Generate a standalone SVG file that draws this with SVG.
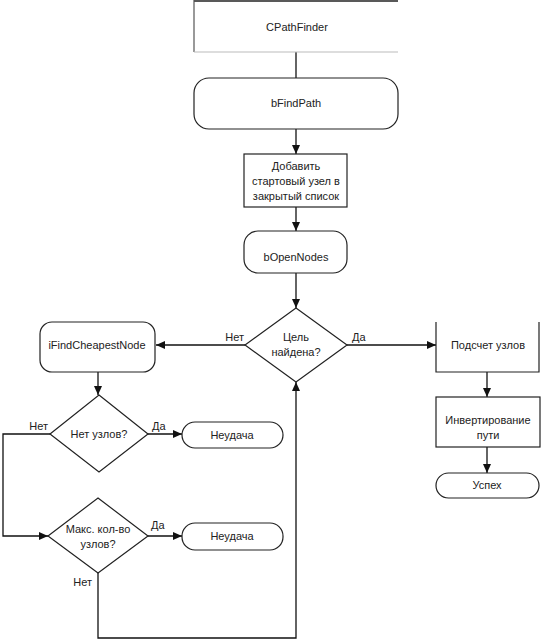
<svg xmlns="http://www.w3.org/2000/svg" width="541" height="642" viewBox="0 0 541 642">
<defs>
<marker id="ah" markerWidth="10" markerHeight="8" refX="9" refY="4" orient="auto" markerUnits="userSpaceOnUse">
<path d="M0,0 L9,4 L0,8 Z" fill="#111"/>
</marker>
<style>
.s{fill:#fff;stroke:#222;stroke-width:1.2}
.e{fill:none;stroke:#222;stroke-width:1.2}
.t{font-family:"Liberation Sans",Arial,sans-serif;font-size:11px;fill:#222;text-anchor:middle}
.l{font-family:"Liberation Sans",Arial,sans-serif;font-size:11px;fill:#222}
.c{fill:none;stroke:#111;stroke-width:1.3}
</style>
</defs>
<rect width="541" height="642" fill="#fff"/>
<g id="connectors">
<line class="c" x1="296" y1="52" x2="296" y2="78"/>
<line class="c" x1="296" y1="129" x2="296" y2="154" marker-end="url(#ah)"/>
<line class="c" x1="296" y1="207" x2="296" y2="231" marker-end="url(#ah)"/>
<line class="c" x1="296" y1="273" x2="296" y2="308" marker-end="url(#ah)"/>
<line class="c" x1="245" y1="345" x2="156" y2="345" marker-end="url(#ah)"/>
<line class="c" x1="347" y1="345" x2="436" y2="345" marker-end="url(#ah)"/>
<line class="c" x1="487" y1="372" x2="487" y2="397" marker-end="url(#ah)"/>
<line class="c" x1="487" y1="447" x2="487" y2="473" marker-end="url(#ah)"/>
<line class="c" x1="98" y1="372" x2="98" y2="395" marker-end="url(#ah)"/>
<line class="c" x1="148" y1="434" x2="182" y2="434" marker-end="url(#ah)"/>
<polyline class="c" points="50,434 3,434 3,536 48,536" marker-end="url(#ah)"/>
<line class="c" x1="148" y1="536" x2="182" y2="536" marker-end="url(#ah)"/>
<polyline class="c" points="98,573 98,638 296,638 296,382" marker-end="url(#ah)"/>
<text class="l" x="244" y="341" text-anchor="end">Нет</text>
<text class="l" x="352" y="341">Да</text>
<text class="l" x="48" y="430" text-anchor="end">Нет</text>
<text class="l" x="152" y="430">Да</text>
<text class="l" x="151" y="529">Да</text>
<text class="l" x="92" y="586" text-anchor="end">Нет</text>
</g>
<g id="cpathfinder">
<line x1="194" y1="1" x2="398" y2="1" stroke="#222" stroke-width="1.5"/>
<line x1="194" y1="0" x2="194" y2="52" stroke="#555" stroke-width="1.2"/>
<line x1="194" y1="52" x2="398" y2="52" stroke="#bbb" stroke-width="1.2"/>
<text class="t" x="297" y="31">CPathFinder</text>
</g>
<g id="bfindpath">
<rect class="s" x="194" y="78" width="204" height="51" rx="15"/>
<text class="t" x="296" y="107">bFindPath</text>
</g>
<g id="addstart">
<rect class="s" x="244" y="154" width="103" height="53"/>
<text class="t" x="296" y="170">Добавить</text>
<text class="t" x="296" y="185">стартовый узел в</text>
<text class="t" x="296" y="200">закрытый список</text>
</g>
<g id="bopennodes">
<rect class="s" x="244" y="231" width="103" height="42" rx="14"/>
<text class="t" x="296" y="261">bOpenNodes</text>
</g>
<g id="goalfound">
<polygon class="s" points="296,308 347,345 296,382 245,345"/>
<text class="t" x="296" y="341">Цель</text>
<text class="t" x="296" y="356">найдена?</text>
</g>
<g id="ifindcheapest">
<rect class="s" x="40" y="322" width="115" height="50" rx="12"/>
<text class="t" x="97" y="349">iFindCheapestNode</text>
</g>
<g id="countnodes">
<path class="e" d="M436,322 V372 H539 V322"/>
<text class="t" x="488" y="349">Подсчет узлов</text>
</g>
<g id="invertpath">
<rect class="s" x="436" y="397" width="104" height="50"/>
<text class="t" x="488" y="424">Инвертирование</text>
<text class="t" x="488" y="439">пути</text>
</g>
<g id="success">
<rect class="s" x="436" y="473" width="103" height="25" rx="12.5"/>
<text class="t" x="487" y="489">Успех</text>
</g>
<g id="nonodes">
<polygon class="s" points="99,395 148,434 99,472 50,434"/>
<text class="t" x="99" y="438">Нет узлов?</text>
</g>
<g id="fail1">
<rect class="s" x="182" y="422" width="101" height="26" rx="13"/>
<text class="t" x="232" y="439">Неудача</text>
</g>
<g id="maxnodes">
<polygon class="s" points="98,498 148,536 98,573 48,536"/>
<text class="t" x="98" y="533">Макс. кол-во</text>
<text class="t" x="98" y="548">узлов?</text>
</g>
<g id="fail2">
<rect class="s" x="182" y="523" width="101" height="27" rx="13"/>
<text class="t" x="232" y="540">Неудача</text>
</g>
</svg>
